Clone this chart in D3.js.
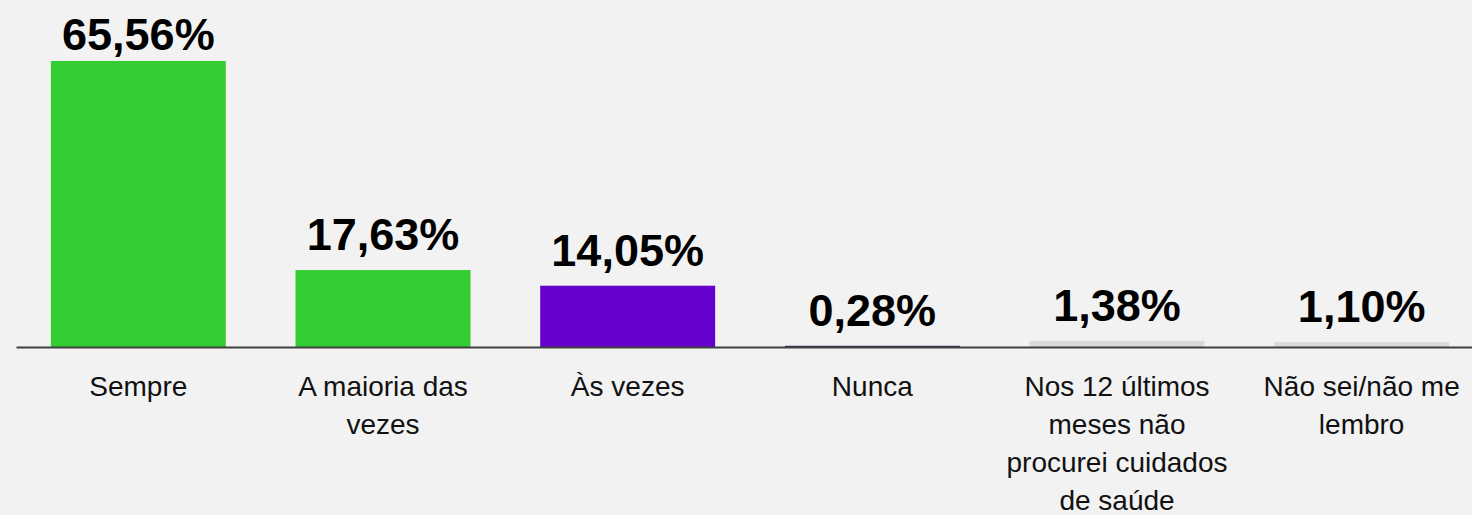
<!DOCTYPE html>
<html>
<head>
<meta charset="utf-8">
<script src="https://cdn.jsdelivr.net/npm/d3@7"></script>
<style>
  html, body { margin: 0; padding: 0; background: #f2f2f2; }
  svg { display: block; }
</style>
</head>
<body>
<svg id="chart" width="1472" height="515"></svg>
<script>
const categories = [
  'Sempre',
  'A maioria das vezes',
  'Às vezes',
  'Nunca',
  'Nos 12 últimos meses não procurei cuidados de saúde',
  'Não sei/não me lembro'
];
const values = [65.56, 17.63, 14.05, 0.28, 1.38, 1.10];
const valueLabels = ['65,56%', '17,63%', '14,05%', '0,28%', '1,38%', '1,10%'];
const barColors = ['#33cc33', '#33cc33', '#6600cc', '#2f2a5a', '#d9d9d9', '#d9d9d9'];

const width = 1472;
const height = 515;
const baseline = 347;

const svg = d3.select('#chart');

const x = d3.scaleBand()
  .domain(categories)
  .range([16, 1484])
  .paddingInner(0.285)
  .paddingOuter(0.1425);

const y = d3.scaleLinear()
  .domain([0, d3.max(values)])
  .range([baseline, 61]);

const data = categories.map((c, i) => ({
  cat: c, value: values[i], label: valueLabels[i], color: barColors[i]
}));

svg.append('g')
  .selectAll('rect')
  .data(data)
  .enter()
  .append('rect')
  .attr('x', d => x(d.cat))
  .attr('y', d => y(d.value))
  .attr('width', x.bandwidth())
  .attr('height', d => y(0) - y(d.value))
  .attr('fill', d => d.color);

// category axis: only the baseline, labels wrapped below
const xAxis = d3.axisBottom(x).tickSize(0).tickSizeOuter(0).tickFormat('');
const axisG = svg.append('g')
  .attr('transform', `translate(0,${baseline})`)
  .call(xAxis);
axisG.select('.domain').attr('stroke', '#404040').attr('stroke-width', 2);

const catLabels = svg.append('g')
  .attr('font-family', 'Liberation Sans, Arial, sans-serif')
  .attr('font-size', 28)
  .attr('fill', '#111')
  .attr('text-anchor', 'middle')
  .selectAll('text')
  .data(categories)
  .enter()
  .append('text')
  .attr('x', d => x(d) + x.bandwidth() / 2)
  .attr('y', baseline + 49);

catLabels.each(function (d) {
  const text = d3.select(this);
  const words = d.split(' ');
  const cx = x(d) + x.bandwidth() / 2;
  let line = [];
  let tspan = text.append('tspan').attr('x', cx).attr('dy', 0);
  words.forEach(w => {
    line.push(w);
    tspan.text(line.join(' '));
    if (tspan.node().getComputedTextLength() > 236 && line.length > 1) {
      line.pop();
      tspan.text(line.join(' '));
      line = [w];
      tspan = text.append('tspan').attr('x', cx).attr('dy', 38).text(w);
    }
  });
});

// value labels
svg.append('g')
  .attr('font-family', 'Liberation Sans, Arial, sans-serif')
  .attr('font-size', 45)
  .attr('font-weight', 'bold')
  .attr('fill', '#000')
  .attr('text-anchor', 'middle')
  .selectAll('text')
  .data(data)
  .enter()
  .append('text')
  .attr('x', d => x(d.cat) + x.bandwidth() / 2)
  .attr('y', d => Math.max(y(d.value) - 20, 50))
  .text(d => d.label);
</script>
</body>
</html>
